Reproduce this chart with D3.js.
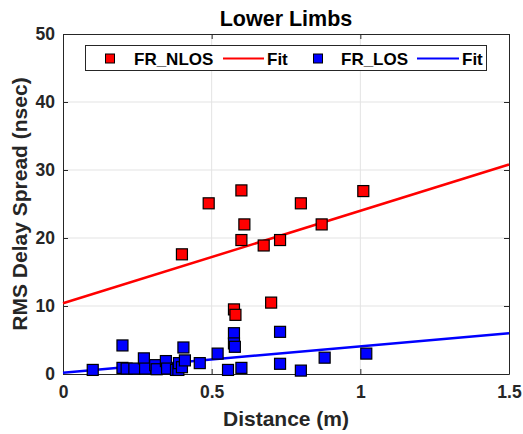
<!DOCTYPE html>
<html><head><meta charset="utf-8">
<script src="https://cdn.jsdelivr.net/npm/d3@7"></script>
<style>body{margin:0;background:#fff}svg{display:block}text{font-family:"Liberation Sans",Arial,sans-serif;font-weight:bold}</style>
</head><body><svg id="c" width="523" height="434"></svg>
<script>
const xTicks=[0,0.5,1,1.5];
const xTickLabels=["0","0.5","1","1.5"];
const yTicks=[0,10,20,30,40,50];
const nlosX=[0.40,0.49,0.60,0.61,0.60,0.675,0.73,0.80,0.87,1.01,0.575,0.58,0.70];
const nlosY=[17.6,25.1,27.0,22.0,19.7,18.9,19.7,25.1,22.0,26.9,9.5,8.7,10.5];
const losX=[0.10,0.20,0.20,0.214,0.24,0.272,0.276,0.31,0.315,0.346,0.35,0.38,0.388,0.39,0.40,0.405,0.41,0.46,0.52,0.555,0.575,0.575,0.578,0.60,0.73,0.73,0.80,0.88,1.02];
const losY=[0.6,4.2,0.9,0.8,0.8,2.3,0.8,1.3,0.7,1.9,0.8,0.6,0.6,1.6,1.0,3.9,2.0,1.6,3.0,0.6,6.0,4.5,4.0,0.9,6.2,1.5,0.5,2.4,3.0];
const nlosFit=[10.4,13.6]; // intercept, slope
const losFit=[0.2,3.87];
const legendLabels=["FR_NLOS","Fit","FR_LOS","Fit"];

const svg=d3.select("#c");
const L=63,R=509,T=34,B=374;
const x=d3.scaleLinear().domain([0,1.5]).range([L,R]);
const y=d3.scaleLinear().domain([0,50]).range([B,T]);
const axCol="#262626";

// grid
svg.append("g").selectAll("line").data(xTicks.slice(1,-1)).join("line")
 .attr("x1",d=>x(d)).attr("x2",d=>x(d)).attr("y1",T).attr("y2",B).attr("stroke","#e3e3e3").attr("stroke-width",1);
svg.append("g").selectAll("line").data(yTicks.slice(1,-1)).join("line")
 .attr("y1",d=>y(d)).attr("y2",d=>y(d)).attr("x1",L).attr("x2",R).attr("stroke","#e3e3e3").attr("stroke-width",1);

// axes
const xa=svg.append("g").attr("transform",`translate(0,${B})`)
 .call(d3.axisBottom(x).tickValues(xTicks).tickFormat((d,i)=>xTickLabels[i]).tickSizeInner(-5).tickSizeOuter(0).tickPadding(12));
const xt=svg.append("g").attr("transform",`translate(0,${T})`)
 .call(d3.axisTop(x).tickValues(xTicks).tickFormat("").tickSizeInner(-5).tickSizeOuter(0));
const ya=svg.append("g").attr("transform",`translate(${L},0)`)
 .call(d3.axisLeft(y).tickValues(yTicks).tickSizeInner(-5).tickSizeOuter(0).tickPadding(8));
const yr=svg.append("g").attr("transform",`translate(${R},0)`)
 .call(d3.axisRight(y).tickValues(yTicks).tickFormat("").tickSizeInner(-5).tickSizeOuter(0));
[xa,xt,ya,yr].forEach(g=>{g.selectAll("path").attr("stroke",axCol).attr("stroke-width",1);
 g.selectAll("line").attr("stroke",axCol);
 g.selectAll("text").attr("fill",axCol).style("font-size","17.5px").style("font-family","'Liberation Sans',Arial,sans-serif").style("font-weight","bold");});
xa.selectAll("text").attr("dy","0.71em");

// fit lines
function fitLine(f,col){
 svg.append("line").attr("x1",x(0)).attr("y1",y(f[0])).attr("x2",x(1.5)).attr("y2",y(f[0]+f[1]*1.5))
  .attr("stroke",col).attr("stroke-width",2.5);
}
fitLine(nlosFit,"#ff0000");
fitLine(losFit,"#0000ff");

const S=11;
function pts(xs,ys,col){
 svg.append("g").selectAll("rect").data(xs.map((d,i)=>[d,ys[i]])).join("rect")
  .attr("x",d=>x(d[0])-S/2).attr("y",d=>y(d[1])-S/2).attr("width",S).attr("height",S)
  .attr("fill",col).attr("stroke","#000").attr("stroke-width",1.2);
}
pts(nlosX,nlosY,"#ff0000");
pts(losX,losY,"#0000ff");

// title and labels
svg.append("text").attr("x",286).attr("y",26).attr("text-anchor","middle").style("font-size","21.5px").attr("fill","#000").text("Lower Limbs");
svg.append("text").attr("x",286).attr("y",426).attr("text-anchor","middle").style("font-size","21px").attr("fill",axCol).text("Distance (m)");
svg.append("text").attr("transform","translate(27,204) rotate(-90)").attr("text-anchor","middle").style("font-size","21px").attr("fill",axCol).text("RMS Delay Spread (nsec)");

// legend
const lg=svg.append("g");
lg.append("rect").attr("x",85.5).attr("y",45.5).attr("width",401).attr("height",25).attr("fill","#fff").attr("stroke",axCol).attr("stroke-width",1);
const ly=58.5;
lg.append("rect").attr("x",110-4.5).attr("y",ly-4.5).attr("width",9).attr("height",9).attr("fill","#ff0000").attr("stroke","#000");
lg.append("text").attr("x",134).attr("y",ly).attr("dy","0.36em").style("font-size","17px").attr("fill","#000").text(legendLabels[0]);
lg.append("line").attr("x1",223).attr("x2",264).attr("y1",ly).attr("y2",ly).attr("stroke","#ff0000").attr("stroke-width",2);
lg.append("text").attr("x",267).attr("y",ly).attr("dy","0.36em").style("font-size","17px").attr("fill","#000").text(legendLabels[1]);
lg.append("rect").attr("x",318-4.5).attr("y",ly-4.5).attr("width",9).attr("height",9).attr("fill","#0000ff").attr("stroke","#000");
lg.append("text").attr("x",341).attr("y",ly).attr("dy","0.36em").style("font-size","17px").attr("fill","#000").text(legendLabels[2]);
lg.append("line").attr("x1",417).attr("x2",459).attr("y1",ly).attr("y2",ly).attr("stroke","#0000ff").attr("stroke-width",2);
lg.append("text").attr("x",462).attr("y",ly).attr("dy","0.36em").style("font-size","17px").attr("fill","#000").text(legendLabels[3]);
</script></body></html>
